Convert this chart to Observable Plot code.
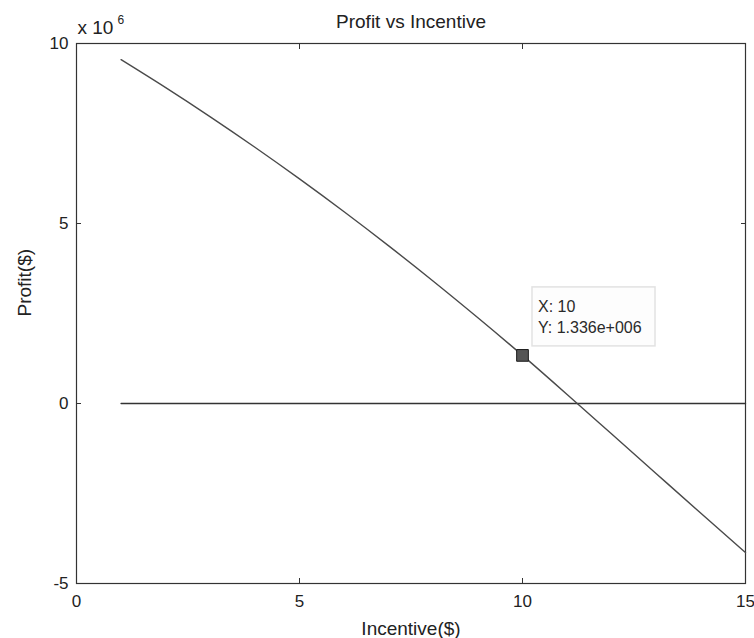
<!DOCTYPE html>
<html>
<head>
<meta charset="utf-8">
<script src="https://cdn.jsdelivr.net/npm/d3@7"></script>
<script src="https://cdn.jsdelivr.net/npm/@observablehq/plot@0.6"></script>
<style>
  body { margin: 0; background: #fff; }
  #chart svg { display: block; }
</style>
</head>
<body>
<div id="chart"></div>
<script>
// ---- data ----
const incentive = [1, 2, 3, 4, 5, 6, 7, 8, 9, 10, 11, 12, 13, 14, 15];
const profit = [9550000, 8773000, 7962000, 7117000, 6238000, 5325000, 4378000,
                3397000, 2382000, 1336000, 250000, -850000, -1950000, -3050000, -4140000];
const breakEvenX = [1, 15];
const breakEvenY = [0, 0];
const xTicks = [0, 5, 10, 15];
const yTicks = [-5000000, 0, 5000000, 10000000];
const tipX = [10];
const tipY = [1336000];
const tipLines = ["X: 10", "Y: 1.336e+006"];
const titleText = "Profit vs Incentive";
const xLabel = "Incentive($)";
const yLabel = "Profit($)";
const exponentBase = "x 10";
const exponentPower = "6";

const curve = incentive.map((x, i) => ({x, y: profit[i]}));
const zeroLine = breakEvenX.map((x, i) => ({x, y: breakEvenY[i]}));
const tip = tipX.map((x, i) => ({x, y: tipY[i]}));

const ink = "#222";

// datatip box drawn relative to the data point through the scales
function dataTip(index, scales) {
  const px = scales.x(tip[0].x), py = scales.y(tip[0].y);
  const g = d3.create("svg:g");
  g.append("rect")
    .attr("x", px + 10).attr("y", py - 68)
    .attr("width", 123).attr("height", 59)
    .attr("fill", "#fdfdfd").attr("stroke", "#e2e2e2").attr("stroke-width", 1.5);
  g.selectAll("text").data(tipLines).join("text")
    .attr("x", px + 16)
    .attr("y", (d, i) => py - 43 + i * 21)
    .attr("text-anchor", "start")
    .attr("fill", "#2a2a2a")
    .attr("font-size", 16)
    .text(d => d);
  return g.node();
}

const chart = Plot.plot({
  width: 754,
  height: 638,
  marginLeft: 76,
  marginRight: 9,
  marginTop: 43,
  marginBottom: 55,
  style: {fontFamily: "'Liberation Sans', Arial, sans-serif", fontSize: "17px", color: ink, background: "#fff"},
  x: {domain: [0, 15]},
  y: {domain: [-5000000, 10000000]},
  marks: [
    Plot.frame({stroke: "#333", strokeWidth: 1.2}),
    Plot.axisX({ticks: xTicks, anchor: "bottom", tickSize: -5, tickPadding: 16, label: null,
                tickFormat: d => String(d), stroke: "#333", fill: ink}),
    Plot.axisX({ticks: xTicks, anchor: "top", tickSize: -5, label: null,
                tickFormat: () => "", stroke: "#333"}),
    Plot.axisY({ticks: yTicks, anchor: "left", tickSize: -5, tickPadding: 13, label: null,
                tickFormat: d => String(d / 1e6), stroke: "#333", fill: ink}),
    Plot.axisY({ticks: yTicks, anchor: "right", tickSize: -5, label: null,
                tickFormat: () => "", stroke: "#333"}),
    Plot.line(zeroLine, {x: "x", y: "y", stroke: "#333", strokeWidth: 1.4}),
    Plot.line(curve, {x: "x", y: "y", curve: "natural", stroke: "#4a4a4a", strokeWidth: 1.4}),
    Plot.dot(tip, {x: "x", y: "y", symbol: "square", r: 6.6, fill: "#555", stroke: "#1a1a1a", strokeWidth: 1}),
    dataTip,
    Plot.text([titleText], {frameAnchor: "top", dy: -16, lineAnchor: "bottom", fontSize: 19, fill: ink}),
    Plot.text([xLabel], {frameAnchor: "bottom", dy: 51, lineAnchor: "bottom", fontSize: 19, fill: ink}),
    Plot.text([yLabel], {frameAnchor: "left", dx: -52, dy: 3, rotate: -90, lineAnchor: "middle", fontSize: 19, fill: ink}),
    Plot.text([exponentBase], {frameAnchor: "top-left", dx: 1, dy: -10, textAnchor: "start", lineAnchor: "bottom", fontSize: 19, fill: ink}),
    Plot.text([exponentPower], {frameAnchor: "top-left", dx: 41, dy: -20, textAnchor: "start", lineAnchor: "bottom", fontSize: 12, fill: ink})
  ]
});

document.getElementById("chart").appendChild(chart);
</script>
</body>
</html>
